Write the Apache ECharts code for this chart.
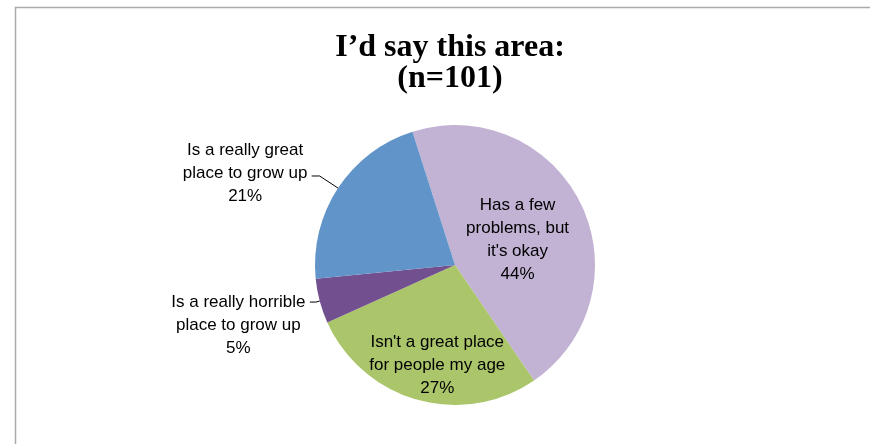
<!DOCTYPE html>
<html>
<head>
<meta charset="utf-8">
<script src="https://cdn.jsdelivr.net/npm/echarts@6/dist/echarts.min.js"></script>
<style>
  html, body { margin: 0; padding: 0; background: #ffffff; }
  #chart { width: 870px; height: 444px; }
</style>
</head>
<body>
<div id="chart"></div>
<script>
// Survey answers, in drawing order (clockwise from the top)
const categories = [
  "Has a few\nproblems, but\nit's okay",
  "Isn't a great place\nfor people my age",
  "Is a really horrible\nplace to grow up",
  "Is a really great\nplace to grow up"
];
const shares = [44, 27, 5, 21];
const sliceColors = ['#C2B2D4', '#ABC56B', '#72508F', '#6194C8'];

const chart = echarts.init(document.getElementById('chart'), null, { renderer: 'canvas' });

const LABEL_FAMILY = 'Liberation Sans';
const LABEL_SIZE = 17;
const LABEL_LINE_HEIGHT = 23;

// Width of the widest line of a label, so every line can be centred in one block
const measureCtx = document.createElement('canvas').getContext('2d');
measureCtx.font = LABEL_SIZE + 'px "' + LABEL_FAMILY + '"';
function blockWidth(lines) {
  return Math.ceil(Math.max(...lines.map(l => measureCtx.measureText(l).width)));
}

function labelLines(i) {
  return categories[i].split('\n').concat(shares[i] + '%');
}

// Per-slice label placement: two inside, two outside with leader lines.
// The "horrible" label hangs from its first line, the "great" one sits a bit above its line.
const insideShift = [[-3, 7], [2, 30], null, null];
const labelSetups = [
  { label: { position: 'inside' }, labelLine: { show: false } },
  { label: { position: 'inside' }, labelLine: { show: false } },
  { label: { position: 'outside', padding: [46, 0, 0, 0] }, labelLine: { show: true, length: 4, length2: 6 } },
  { label: { position: 'outside', padding: [0, 0, 6, 0] }, labelLine: { show: true, length: 22, length2: 8 } }
];

const pieData = categories.map((name, i) => {
  const lines = labelLines(i);
  const w = blockWidth(lines);
  return {
    name: name,
    value: shares[i],
    itemStyle: { color: sliceColors[i] },
    label: Object.assign({
      formatter: () => lines.map(l => '{t|' + l + '}').join('\n'),
      rich: {
        t: {
          width: w,
          align: 'center',
          fontFamily: LABEL_FAMILY,
          fontSize: LABEL_SIZE,
          lineHeight: LABEL_LINE_HEIGHT,
          color: '#000000'
        }
      }
    }, labelSetups[i].label),
    labelLine: labelSetups[i].labelLine
  };
});

chart.setOption({
  animation: false,
  backgroundColor: '#ffffff',
  title: {
    text: 'I\u2019d say this area:\n(n=101)',
    left: 445,
    textAlign: 'center',
    top: 27,
    textStyle: {
      fontFamily: 'Liberation Serif',
      fontWeight: 'bold',
      fontSize: 32,
      lineHeight: 31,
      color: '#000000'
    }
  },
  graphic: [
    {
      type: 'polyline',
      shape: { points: [[15.5, 444], [15.5, 7.5], [870, 7.5]] },
      style: { stroke: '#ababab', lineWidth: 1.5, fill: null },
      silent: true
    }
  ],
  series: [{
    type: 'pie',
    center: [455, 265],
    radius: 140,
    startAngle: 107.7,
    clockwise: true,
    avoidLabelOverlap: false,
    itemStyle: { borderWidth: 0 },
    label: {
      distanceToLabelLine: 4
    },
    labelLine: {
      lineStyle: { color: '#000000', width: 1 },
      smooth: false
    },
    labelLayout: p => {
      const s = insideShift[p.dataIndex];
      return s ? { dx: s[0], dy: s[1] } : {};
    },
    data: pieData
  }]
});
</script>
</body>
</html>
